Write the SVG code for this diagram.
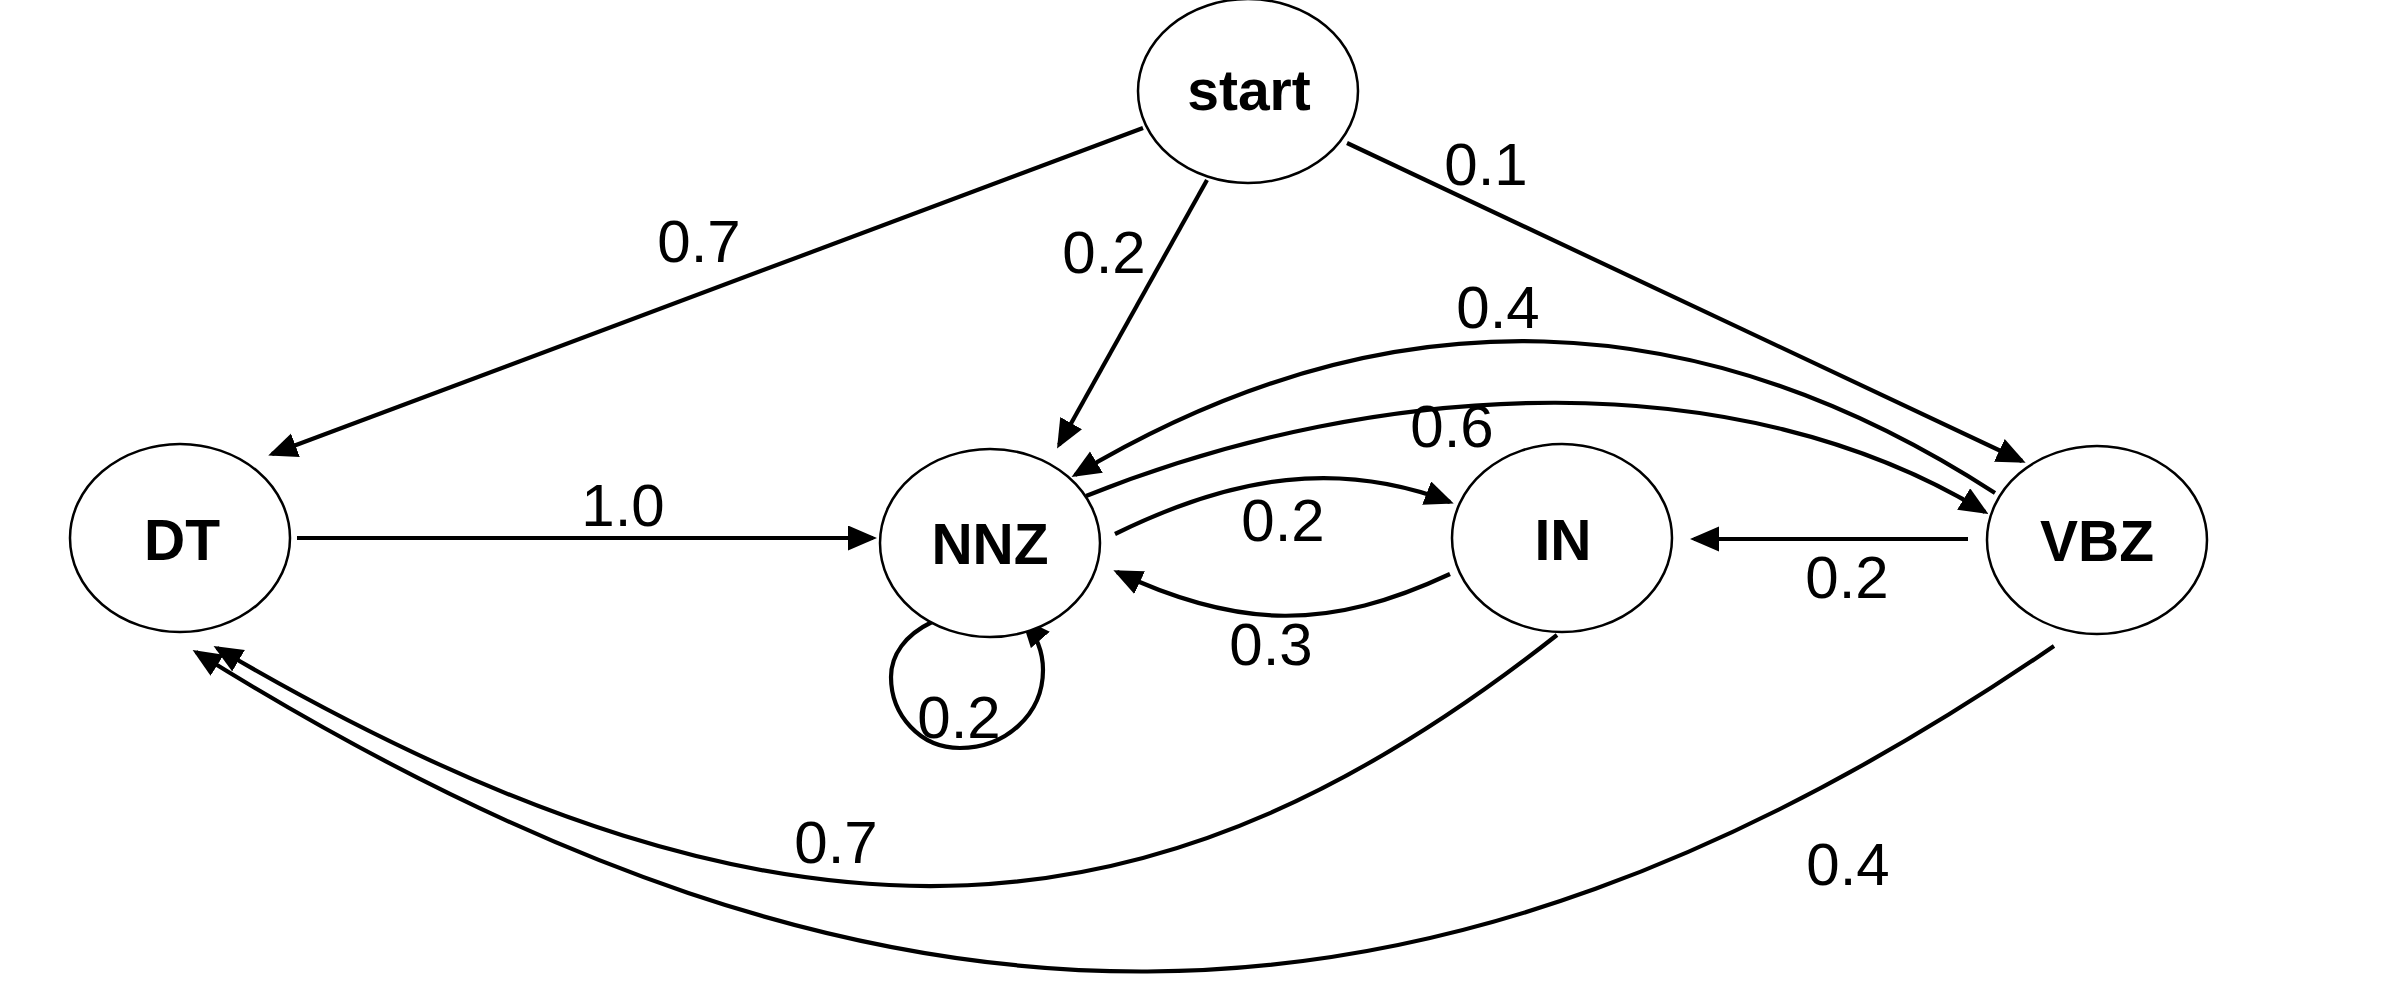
<svg xmlns="http://www.w3.org/2000/svg" width="2382" height="986" viewBox="0 0 2382 986">
<style>
.node ellipse{fill:#fff;stroke:#000;stroke-width:2.5}
.node text{font-family:"Liberation Sans",Arial,sans-serif;font-weight:bold;font-size:57px;text-anchor:middle;fill:#000}
.edge{fill:none;stroke:#000;stroke-width:4.2;marker-end:url(#arr)}
.lbl{font-family:"Liberation Sans",Arial,sans-serif;font-size:60px;text-anchor:middle;fill:#000}
</style>
<defs>
<marker id="arr" markerUnits="userSpaceOnUse" markerWidth="32" markerHeight="28" refX="25" refY="12.5" orient="auto" viewBox="0 0 32 28">
<path d="M0,0 L29,12.5 L0,25 z" fill="#000"/>
</marker>
</defs>
<rect width="2382" height="986" fill="#fff"/>
<g id="connectors">
<path class="edge" d="M1143,128 L272,454"/>
<path class="edge" d="M1207,180 L1059,445"/>
<path class="edge" d="M1347,143 L2022,461"/>
<path class="edge" d="M297,538 L873,538"/>
<path class="edge" d="M1968,539 L1694,539"/>
<path class="edge" d="M1995,493 C1702,303 1392,285 1075,475"/>
<path class="edge" d="M1086,496 C1386,376 1739,362 1985,512"/>
<path class="edge" d="M1115,534 C1235,475 1340,460 1450,502"/>
<path class="edge" d="M1450,574 C1330,630 1240,630 1117,572"/>
<path class="edge" d="M932,622 C905,635 891,655 891,677 C891,715 920,748 960,748 C1005,748 1043,715 1043,670 C1043,652 1037,636 1024,621"/>
<path class="edge" d="M1557,635 C1176,935 812,998 217,648"/>
<path class="edge" d="M2054,646 C1426,1076 884,1082 196,652"/>
</g>
<g id="labels">
<text class="lbl" x="699" y="262">0.7</text>
<text class="lbl" x="1104" y="273">0.2</text>
<text class="lbl" x="1486" y="185">0.1</text>
<text class="lbl" x="623" y="526">1.0</text>
<text class="lbl" x="1498" y="328">0.4</text>
<text class="lbl" x="1452" y="447">0.6</text>
<text class="lbl" x="1283" y="541">0.2</text>
<text class="lbl" x="1271" y="665">0.3</text>
<text class="lbl" x="1847" y="598">0.2</text>
<text class="lbl" x="959" y="738">0.2</text>
<text class="lbl" x="836" y="863">0.7</text>
<text class="lbl" x="1848" y="885">0.4</text>
</g>
<g id="node-start" class="node"><ellipse cx="1248" cy="91" rx="110" ry="92"/><text x="1249" y="110">start</text></g>
<g id="node-DT" class="node"><ellipse cx="180" cy="538" rx="110" ry="94"/><text x="182" y="560">DT</text></g>
<g id="node-NNZ" class="node"><ellipse cx="990" cy="543" rx="110" ry="94"/><text x="990" y="564">NNZ</text></g>
<g id="node-IN" class="node"><ellipse cx="1562" cy="538" rx="110" ry="94"/><text x="1563" y="560">IN</text></g>
<g id="node-VBZ" class="node"><ellipse cx="2097" cy="540" rx="110" ry="94"/><text x="2097" y="561">VBZ</text></g>
</svg>
